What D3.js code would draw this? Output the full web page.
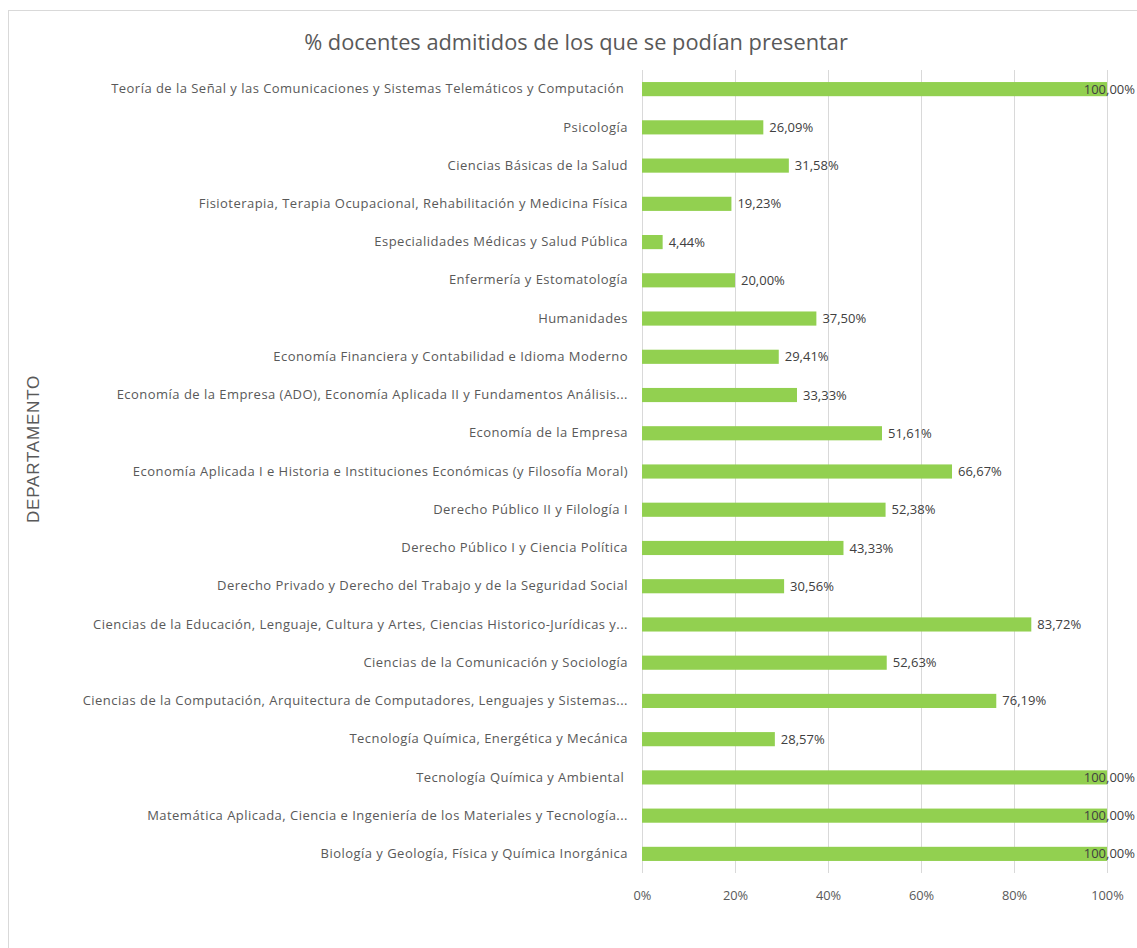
<!DOCTYPE html>
<html>
<head>
<meta charset="utf-8">
<script src="https://cdn.jsdelivr.net/npm/d3@7"></script>
<style>
  html, body { margin: 0; padding: 0; background: #fff; }
  svg { display: block; }
</style>
</head>
<body>
<svg id="chart" width="1137" height="948"></svg>
<script>
const title = "% docentes admitidos de los que se podían presentar";
const axisTitle = "DEPARTAMENTO";
const categories = [
  "Teoría de la Señal y las Comunicaciones y Sistemas Telemáticos y Computación ",
  "Psicología",
  "Ciencias Básicas de la Salud",
  "Fisioterapia, Terapia Ocupacional, Rehabilitación y Medicina Física",
  "Especialidades Médicas y Salud Pública",
  "Enfermería y Estomatología",
  "Humanidades",
  "Economía Financiera y Contabilidad e Idioma Moderno",
  "Economía de la Empresa (ADO), Economía Aplicada II y Fundamentos Análisis...",
  "Economía de la Empresa",
  "Economía Aplicada I e Historia e Instituciones Económicas (y Filosofía Moral)",
  "Derecho Público II y Filología I",
  "Derecho Público I y Ciencia Política",
  "Derecho Privado y Derecho del Trabajo y de la Seguridad Social",
  "Ciencias de la Educación, Lenguaje, Cultura y Artes, Ciencias Historico-Jurídicas y...",
  "Ciencias de la Comunicación y Sociología",
  "Ciencias de la Computación, Arquitectura de Computadores, Lenguajes y Sistemas...",
  "Tecnología Química, Energética y Mecánica",
  "Tecnología Química y Ambiental ",
  "Matemática Aplicada, Ciencia e Ingeniería de los Materiales y Tecnología...",
  "Biología y Geología, Física y Química Inorgánica"
];
const values = [100, 26.09, 31.58, 19.23, 4.44, 20.00, 37.50, 29.41, 33.33, 51.61, 66.67,
                52.38, 43.33, 30.56, 83.72, 52.63, 76.19, 28.57, 100, 100, 100];
const tickValues = [0, 20, 40, 60, 80, 100];
const tickLabels = ["0%", "20%", "40%", "60%", "80%", "100%"];

const FONT = "'Open Sans', Lato, sans-serif";
const svg = d3.select("#chart");
const W = 1137, H = 948;
const margin = { left: 642, top: 70 };
const plotRight = 1107, plotBottom = 873;

// chart frame
svg.append("rect").attr("x", 8.5).attr("y", 10.5).attr("width", 1140).attr("height", 950)
  .attr("fill", "#fff").attr("stroke", "#d9d9d9").attr("stroke-width", 1);

const x = d3.scaleLinear().domain([0, 100]).range([margin.left, plotRight]);
const y = d3.scaleBand().domain(categories).range([margin.top, plotBottom]).paddingInner(0.63).paddingOuter(0.315);

// gridlines
svg.append("g").selectAll("line").data(tickValues).join("line")
  .attr("x1", d => Math.round(x(d)) + 0.5).attr("x2", d => Math.round(x(d)) + 0.5)
  .attr("y1", margin.top).attr("y2", plotBottom)
  .attr("stroke", "#d9d9d9").attr("stroke-width", 1);

// x axis labels
const xAxis = d3.axisBottom(x).tickValues(tickValues).tickSize(0).tickPadding(0)
  .tickFormat((d, i) => tickLabels[i]);
const gx = svg.append("g").attr("transform", `translate(0,${plotBottom + 23})`).call(xAxis);
gx.select(".domain").remove();
gx.selectAll("text").attr("font-family", FONT).attr("font-size", 12.8).attr("fill", "#595959")
  .attr("dy", "0.35em");

// y axis labels
const yAxis = d3.axisLeft(y).tickSize(0).tickPadding(14);
const gy = svg.append("g").attr("transform", `translate(${margin.left},0)`).call(yAxis);
gy.select(".domain").remove();
gy.selectAll("text").attr("font-family", FONT).attr("font-size", 13).attr("letter-spacing", 0.47)
  .attr("fill", "#595959").style("white-space", "pre");

// bars
svg.append("g").selectAll("rect").data(values).join("rect")
  .attr("x", x(0))
  .attr("y", (d, i) => y(categories[i]))
  .attr("width", d => x(d) - x(0))
  .attr("height", y.bandwidth())
  .attr("fill", "#92d050");

// data labels
const fmt = v => v.toFixed(2).replace(".", ",") + "%";
const lbl = svg.append("g").selectAll("text").data(values).join("text")
  .attr("font-family", FONT).attr("font-size", 13).attr("fill", "#404040")
  .attr("y", (d, i) => y(categories[i]) + y.bandwidth() / 2)
  .attr("dy", "0.35em")
  .text(d => fmt(d));
lbl.each(function(d) {
  const w = this.getComputedTextLength();
  const xs = Math.min(x(d) + 6, W - 2 - w);
  d3.select(this).attr("x", xs);
});

// title
svg.append("text").attr("x", 576).attr("y", 42).attr("text-anchor", "middle")
  .attr("dy", "0.35em").attr("font-family", FONT).attr("font-size", 21.8).attr("fill", "#595959")
  .text(title);

// axis title
svg.append("text").attr("transform", "translate(33,449) rotate(-90)")
  .attr("text-anchor", "middle").attr("dy", "0.35em")
  .attr("font-family", "'Liberation Sans', Arial, sans-serif").attr("font-size", 17)
  .attr("letter-spacing", 0.8).attr("fill", "#595959")
  .text(axisTitle);
</script>
</body>
</html>
